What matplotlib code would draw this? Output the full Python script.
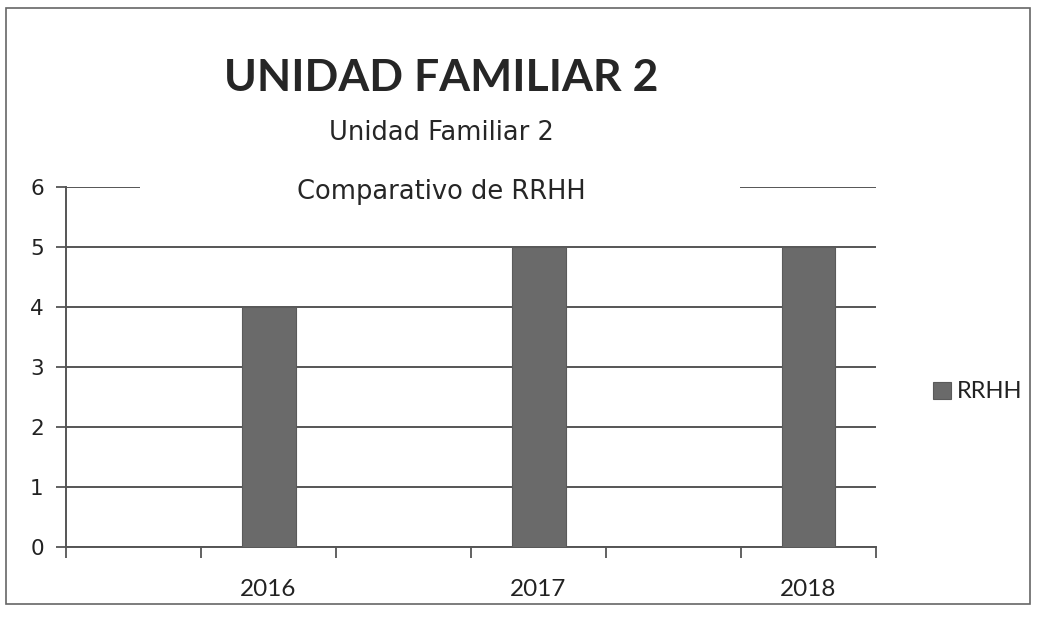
import matplotlib
matplotlib.use("Agg")
import matplotlib.pyplot as plt
from matplotlib.patches import Rectangle
import numpy as np

# Data
categories = ["2016", "2017", "2018"]
rrhh = [4, 5, 5]
y_ticks = [0, 1, 2, 3, 4, 5, 6]
title = "UNIDAD FAMILIAR 2"
subtitle1 = "Unidad Familiar 2"
subtitle2 = "Comparativo de RRHH"
series_name = "RRHH"

W, H = 1037, 618
fig = plt.figure(figsize=(W / 100, H / 100), dpi=100)
fig.patch.set_facecolor("white")

ax = fig.add_axes([66 / W, 1 - 547 / H, (876 - 66) / W, (547 - 187) / H])

# six slots, bars in slots 1,3,5
n_slots = 2 * len(categories)
xpos = np.arange(len(categories)) * 2 + 1
bar_color = "#6a6a6a"
ax.bar(xpos, rrhh, width=0.4, color=bar_color, edgecolor="#5a5a5a", linewidth=0.8,
       zorder=3, label=series_name)

ax.set_xlim(-0.5, n_slots - 0.5)
ax.set_ylim(0, 6)

grid_color = "#555555"
ax.set_yticks(y_ticks)
ax.set_yticklabels([str(t) for t in y_ticks], fontfamily="DejaVu Sans", fontsize=15.5, color="#222222")
ax.yaxis.grid(True, color=grid_color, linewidth=1.4, zorder=1)
ax.tick_params(axis="y", length=7, width=1.3, color=grid_color, pad=9)

# x major ticks at slot boundaries, labels at bars (minor)
ax.set_xticks(np.arange(n_slots + 1) - 0.5)
ax.set_xticklabels([])
ax.tick_params(axis="x", which="major", length=8, width=1.3, color=grid_color, direction="out")
ax.set_xticks(xpos, minor=True)
ax.set_xticklabels(categories, minor=True, fontfamily="Lato", fontsize=17.5, color="#222222")
ax.tick_params(axis="x", which="minor", length=0, pad=23)

for s in ["top", "right"]:
    ax.spines[s].set_visible(False)
for s in ["left", "bottom"]:
    ax.spines[s].set_color(grid_color)
    ax.spines[s].set_linewidth(1.4)
ax.set_axisbelow(True)

# white gap in top gridline behind second subtitle
fig.patches.append(Rectangle((140 / W, 1 - 197 / H), (740 - 140) / W, 20 / H,
                             transform=fig.transFigure, facecolor="white",
                             edgecolor="none", zorder=1))

fig.text(441 / W, 1 - 78 / H, title, ha="center", va="center", fontfamily="Lato",
         fontweight="bold", fontsize=32, color="#262626", zorder=2)
fig.text(441 / W, 1 - 133 / H, subtitle1, ha="center", va="center", fontfamily="DejaVu Sans",
         fontsize=18.5, color="#262626", zorder=2)
fig.text(441 / W, 1 - 192 / H, subtitle2, ha="center", va="center", fontfamily="DejaVu Sans",
         fontsize=18.5, color="#262626", zorder=2)

leg = ax.legend(loc="center left", bbox_to_anchor=(912 / W, 1 - 392 / H),
                bbox_transform=fig.transFigure, frameon=False,
                prop={"family": "Lato", "size": 17}, handlelength=0.75,
                handleheight=0.75, handletextpad=0.25)
for t in leg.get_texts():
    t.set_color("#222222")

# outer border
fig.patches.append(Rectangle((6 / W, 1 - 604 / H), (1030 - 6) / W, (604 - 8) / H,
                             transform=fig.transFigure, facecolor="none",
                             edgecolor="#666666", linewidth=1.2, zorder=0))

fig.savefig("out.png", dpi=100)
